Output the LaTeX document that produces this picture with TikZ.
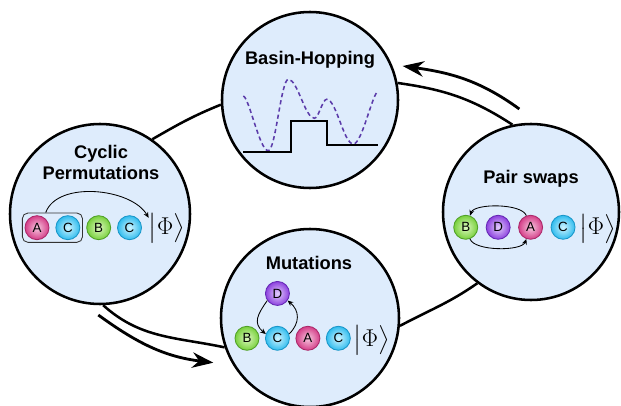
\documentclass[tikz,border=0pt]{standalone}
\usepackage{amsmath}
\usepackage{fontspec}
\setsansfont{Liberation Sans}
\usetikzlibrary{positioning, arrows.meta, fit}

\definecolor{stagefill}{RGB}{222,236,252}
\definecolor{landscape}{RGB}{92,60,170}
\definecolor{pinkin}{RGB}{246,200,224}
\definecolor{pinkout}{RGB}{212,62,136}
\definecolor{pinkline}{RGB}{170,40,105}
\definecolor{greenin}{RGB}{220,248,192}
\definecolor{greenout}{RGB}{120,208,60}
\definecolor{greenline}{RGB}{80,160,40}
\definecolor{cyanin}{RGB}{208,244,255}
\definecolor{cyanout}{RGB}{48,188,238}
\definecolor{cyanline}{RGB}{25,150,200}
\definecolor{violin}{RGB}{226,206,252}
\definecolor{violout}{RGB}{140,64,222}
\definecolor{violline}{RGB}{100,40,180}

\newcommand{\ketphi}{$\bigl|\Phi\bigr\rangle$}

\begin{document}
\begin{tikzpicture}[
  font=\sffamily,
  stage/.style={circle, draw=black, line width=1.8pt, fill=stagefill, inner sep=0pt},
  ttl/.style={font=\sffamily\bfseries\fontsize{13}{15.5}\selectfont, align=center},
  ring/.style={line width=1.8pt},
  bigarr/.style={-{Stealth[length=15pt, width=11pt]}, line width=2pt},
  thinarr/.style={-{Stealth[length=4pt, width=3.5pt]}, line width=0.6pt},
  ball/.style={circle, minimum size=0.6cm, inner sep=0pt, line width=0.6pt, shading=radial,
    font=\sffamily\fontsize{9.5}{10}\selectfont},
  balla/.style={ball, draw=pinkline, inner color=pinkin, outer color=pinkout},
  ballb/.style={ball, draw=greenline, inner color=greenin, outer color=greenout},
  ballc/.style={ball, draw=cyanline, inner color=cyanin, outer color=cyanout},
  balld/.style={ball, draw=violline, inner color=violin, outer color=violout},
  ket/.style={font=\fontsize{16.5}{20}\selectfont, inner sep=0pt}
]
\useasboundingbox (0,0) rectangle (15.525,10.125);

% the four moves
\node[stage, minimum size=4.4cm] (basin) at (7.75,7.625) {};
\node[stage, minimum size=4.5cm] (cyc) at (2.5,4.775) {};
\node[stage, minimum size=4.4cm] (pair) at (13.275,4.825) {};
\node[stage, minimum size=4.45cm] (mut) at (7.75,2.175) {};

% ring between them
\draw[ring] (cyc.55) to[out=30, in=202] (basin.183);
\draw[ring] (basin.11) to[out=-8, in=147] (pair.102);
\draw[ring] (pair.233) to[out=215, in=28] (mut.355);
\draw[ring] (mut.199) to[out=168, in=-42] (cyc.272);

% --- Basin-Hopping ---
\node[ttl] (basinttl) at (7.75,8.625) {Basin-Hopping};
\draw[landscape, line width=1.1pt, dash pattern=on 3pt off 2.2pt]
  (6.083,7.725) .. controls +(0.15,-0.05) and +(-0.22,0) .. (6.708,6.358)
  .. controls +(0.18,0) and +(-0.18,0) .. (7.208,8.142)
  .. controls +(0.23,0) and +(-0.23,0) .. (7.858,7.168)
  .. controls +(0.11,0) and +(-0.11,0) .. (8.167,7.643)
  .. controls +(0.24,0) and +(-0.24,0) .. (8.833,6.525)
  .. controls +(0.22,0) and +(-0.15,-0.05) .. (9.458,7.85);
\draw[line width=1.4pt] (6.083,6.333) -- (7.267,6.333) -- (7.267,7.108) -- (8.183,7.108)
  -- (8.183,6.5) -- (9.458,6.5);

% --- Cyclic Permutations ---
\node[ttl] (cycttl) at (2.525,6.065) {Cyclic\\Permutations};
\node[balla] (cA) at (0.925,4.433) {A};
\node[ballc, right=1.5mm of cA] (cC1) {C};
\node[ballb, right=1.5mm of cC1] (cB) {B};
\node[ballc, right=1.5mm of cB] (cC2) {C};
\node[ket] (cKet) at (4.17,4.418) {\ketphi};
\node[fit=(cA)(cC1), draw=black!80, line width=0.6pt, rounded corners=4pt, inner sep=1.6pt] (cBox) {};
\draw[thinarr] (cBox.114) to[out=70, in=120, looseness=0.85] (cKet.150);

% --- Pair swaps ---
\node[ttl] (pairttl) at (13.275,5.655) {Pair swaps};
\node[ballb] (pB) at (11.643,4.443) {B};
\node[balld, right=1.9mm of pB] (pD) {D};
\node[balla, right=1.9mm of pD] (pA) {A};
\node[ballc, right=1.9mm of pA] (pC) {C};
\node[ket] (pKet) at (14.94,4.408) {\ketphi};
\draw[thinarr] (pA.110) to[out=110, in=70, looseness=0.6] (pB.70);
\draw[thinarr] (pB.-70) to[out=-70, in=-110, looseness=0.6] (pA.-110);

% --- Mutations ---
\node[ttl] (mutttl) at (7.725,3.5625) {Mutations};
\node[ballb] (mB) at (6.175,1.668) {B};
\node[ballc, right=1.4mm of mB] (mC1) {C};
\node[balla, right=1.4mm of mC1] (mA) {A};
\node[ballc, right=1.4mm of mA] (mC2) {C};
\node[balld, above=0.5cm of mC1] (mD) {D};
\node[ket] (mKet) at (9.29,1.625) {\ketphi};
\draw[thinarr] (mD.215) to[out=235, in=140, looseness=1.3] (mC1.160);
\draw[thinarr] (mC1.20) to[out=45, in=-40, looseness=1.2] (mD.-35);

% direction of the cycle
\coordinate (bhTail) at (12.983,7.4);
\coordinate (bhTip) at (10.067,8.475);
\draw[bigarr] (bhTail) to[out=144, in=-8] (bhTip);
\coordinate (cpTail) at (2.458,2.25);
\coordinate (cpTip) at (5.333,1.058);
\draw[bigarr] (cpTail) to[out=-36, in=173] (cpTip);

\end{tikzpicture}
\end{document}
